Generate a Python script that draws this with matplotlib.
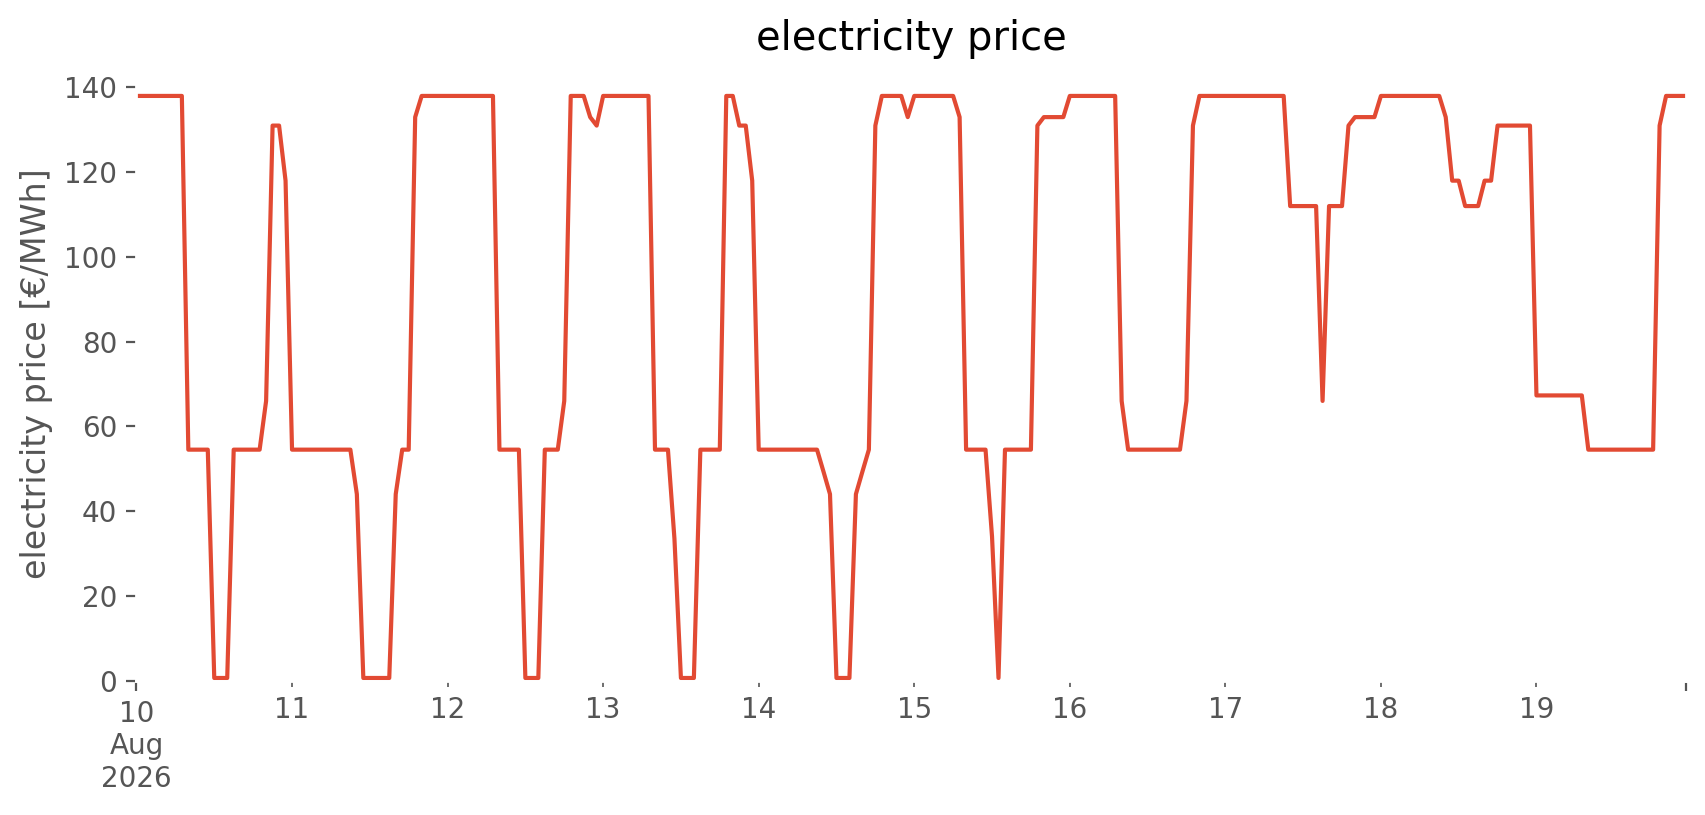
import matplotlib
matplotlib.use('Agg')
import matplotlib.pyplot as plt
import pandas as pd

# hourly electricity price [€/MWh], 10 Aug 2026 00:00 - 19 Aug 2026 23:00
start = '2026-08-10'
day10 = [138, 138, 138, 138, 138, 138, 138, 138, 54.5, 54.5, 54.5, 54.5,
         0.6, 0.6, 0.6, 54.5, 54.5, 54.5, 54.5, 54.5, 66, 131, 131, 118]
day11 = [54.5, 54.5, 54.5, 54.5, 54.5, 54.5, 54.5, 54.5, 54.5, 54.5, 44, 0.6,
         0.6, 0.6, 0.6, 0.6, 44, 54.5, 54.5, 133, 138, 138, 138, 138]
day12 = [138, 138, 138, 138, 138, 138, 138, 138, 54.5, 54.5, 54.5, 54.5,
         0.6, 0.6, 0.6, 54.5, 54.5, 54.5, 66, 138, 138, 138, 133, 131]
day13 = [138, 138, 138, 138, 138, 138, 138, 138, 54.5, 54.5, 54.5, 33.5,
         0.6, 0.6, 0.6, 54.5, 54.5, 54.5, 54.5, 138, 138, 131, 131, 118]
day14 = [54.5, 54.5, 54.5, 54.5, 54.5, 54.5, 54.5, 54.5, 54.5, 54.5, 49.3, 44,
         0.6, 0.6, 0.6, 44, 49.3, 54.5, 131, 138, 138, 138, 138, 133]
day15 = [138, 138, 138, 138, 138, 138, 138, 133, 54.5, 54.5, 54.5, 54.5,
         34, 0.6, 54.5, 54.5, 54.5, 54.5, 54.5, 131, 133, 133, 133, 133]
day16 = [138, 138, 138, 138, 138, 138, 138, 138, 66, 54.5, 54.5, 54.5,
         54.5, 54.5, 54.5, 54.5, 54.5, 54.5, 66, 131, 138, 138, 138, 138]
day17 = [138, 138, 138, 138, 138, 138, 138, 138, 138, 138, 112, 112,
         112, 112, 112, 66, 112, 112, 112, 131, 133, 133, 133, 133]
day18 = [138, 138, 138, 138, 138, 138, 138, 138, 138, 138, 133, 118,
         118, 112, 112, 112, 118, 118, 131, 131, 131, 131, 131, 131]
day19 = [67.3, 67.3, 67.3, 67.3, 67.3, 67.3, 67.3, 67.3, 54.5, 54.5, 54.5, 54.5,
         54.5, 54.5, 54.5, 54.5, 54.5, 54.5, 54.5, 131, 138, 138, 138, 138]

price = day10 + day11 + day12 + day13 + day14 + day15 + day16 + day17 + day18 + day19

plt.style.use('ggplot')

series = pd.Series(price, index=pd.date_range(start, periods=len(price), freq='h'))

fig, ax = plt.subplots(figsize=(8.53, 4.075), dpi=200)
series.plot(ax=ax, lw=1.5)
ax.set_facecolor('white')
ax.set_ylim(bottom=0)
ax.set_title('electricity price')
ax.set_ylabel('electricity price [€/MWh]')

fig.subplots_adjust(left=0.08, right=0.988, bottom=0.165, top=0.918)
fig.savefig('out.png', dpi=200)
